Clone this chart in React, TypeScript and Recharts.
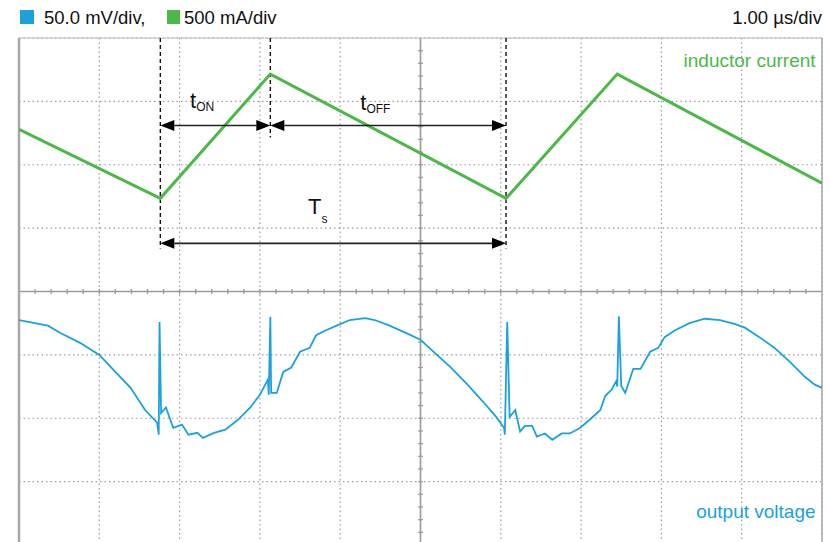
import React from "react";
import {
  ComposedChart,
  Line,
  XAxis,
  YAxis,
  CartesianGrid,
  ReferenceLine,
  ReferenceDot,
} from "recharts";

// time in µs (1 div = 1 µs), values in screen divisions
const xTicks = [-5, -4, -3, -2, -1, 0, 1, 2, 3, 4, 5];
const yTicks = [-4, -3, -2, -1, 0, 1, 2, 3, 4];

const currentTrace = [
  { t: -5.0, v: 2.56 },
  { t: -3.24, v: 1.47 },
  { t: -1.87, v: 3.43 },
  { t: 1.065, v: 1.47 },
  { t: 2.45, v: 3.43 },
  { t: 5.0, v: 1.71 },
];

const voltageTrace = [
  { t: -5.0, v: -0.45 }, { t: -4.64, v: -0.54 }, { t: -4.49, v: -0.65 },
  { t: -4.24, v: -0.81 }, { t: -4.0, v: -1.0 }, { t: -3.8, v: -1.27 },
  { t: -3.61, v: -1.52 }, { t: -3.43, v: -1.87 }, { t: -3.28, v: -2.07 },
  { t: -3.26, v: -2.26 }, { t: -3.25, v: -0.48 }, { t: -3.23, v: -1.92 },
  { t: -3.17, v: -1.83 }, { t: -3.08, v: -2.15 }, { t: -2.97, v: -2.1 },
  { t: -2.89, v: -2.26 }, { t: -2.78, v: -2.23 }, { t: -2.71, v: -2.31 },
  { t: -2.57, v: -2.23 }, { t: -2.43, v: -2.18 }, { t: -2.27, v: -2.02 },
  { t: -2.12, v: -1.83 }, { t: -2.0, v: -1.63 }, { t: -1.9, v: -1.39 },
  { t: -1.89, v: -1.63 }, { t: -1.87, v: -0.4 }, { t: -1.86, v: -1.6 },
  { t: -1.79, v: -1.6 }, { t: -1.71, v: -1.27 }, { t: -1.61, v: -1.2 },
  { t: -1.5, v: -0.95 }, { t: -1.38, v: -0.89 }, { t: -1.3, v: -0.69 },
  { t: -1.19, v: -0.62 }, { t: -1.03, v: -0.53 }, { t: -0.88, v: -0.45 },
  { t: -0.69, v: -0.42 }, { t: -0.57, v: -0.45 }, { t: -0.4, v: -0.53 },
  { t: -0.19, v: -0.65 }, { t: 0.0, v: -0.76 }, { t: 0.16, v: -0.95 },
  { t: 0.37, v: -1.19 }, { t: 0.58, v: -1.46 }, { t: 0.78, v: -1.74 },
  { t: 0.95, v: -1.99 }, { t: 1.04, v: -2.15 }, { t: 1.05, v: -2.26 },
  { t: 1.08, v: -0.48 }, { t: 1.11, v: -1.98 }, { t: 1.18, v: -1.87 },
  { t: 1.24, v: -2.21 }, { t: 1.3, v: -2.12 }, { t: 1.39, v: -2.12 },
  { t: 1.45, v: -2.29 }, { t: 1.55, v: -2.24 }, { t: 1.64, v: -2.34 },
  { t: 1.76, v: -2.24 }, { t: 1.86, v: -2.24 }, { t: 1.99, v: -2.15 },
  { t: 2.11, v: -2.02 }, { t: 2.24, v: -1.87 }, { t: 2.3, v: -1.65 },
  { t: 2.38, v: -1.55 }, { t: 2.44, v: -1.41 }, { t: 2.45, v: -1.5 },
  { t: 2.47, v: -0.39 }, { t: 2.5, v: -1.49 }, { t: 2.55, v: -1.6 },
  { t: 2.65, v: -1.22 }, { t: 2.74, v: -1.22 }, { t: 2.86, v: -0.95 },
  { t: 2.96, v: -0.89 }, { t: 3.04, v: -0.72 }, { t: 3.17, v: -0.61 },
  { t: 3.35, v: -0.5 }, { t: 3.54, v: -0.43 }, { t: 3.73, v: -0.45 },
  { t: 3.91, v: -0.51 }, { t: 4.04, v: -0.57 }, { t: 4.22, v: -0.72 },
  { t: 4.41, v: -0.89 }, { t: 4.6, v: -1.11 }, { t: 4.79, v: -1.35 },
  { t: 4.91, v: -1.47 }, { t: 5.0, v: -1.52 },
];

// switching instants (µs)
const tOn1 = -3.24;
const tOff1 = -1.87;
const tOn2 = 1.065;

const GREEN = "#4cb847";
const BLUE = "#1ba2dd";
const GRID = "#9b9b9b";
const FONT = "'Liberation Sans', Arial, Helvetica, sans-serif";

// minor ticks on the centre axes, 5 per division
const minorX = Array.from({ length: 49 }, (_, i) => -4.8 + i * 0.2);
const minorY = Array.from({ length: 39 }, (_, i) => -3.8 + i * 0.2);

const Arrow = (p: any) => {
  const { x1, y1, x2, y2 } = p;
  const h = 14;
  const w = 5.5;
  return (
    <g>
      <line x1={x1 + h} y1={y1} x2={x2 - h} y2={y2} stroke="#222" strokeWidth={1.6} />
      <polygon points={`${x1},${y1} ${x1 + h},${y1 - w} ${x1 + h},${y1 + w}`} fill="#000" />
      <polygon points={`${x2},${y2} ${x2 - h},${y2 - w} ${x2 - h},${y2 + w}`} fill="#000" />
    </g>
  );
};

const subLabel = (main: string, sub: string, dy: number) => (p: any) => (
  <text x={p.cx} y={p.cy} fontFamily={FONT} fontSize={22} fill="#111">
    {main}
    <tspan fontSize={12} dy={dy}>
      {sub}
    </tspan>
  </text>
);

const sideLabel = (txt: string, color: string) => (p: any) => (
  <text x={p.cx} y={p.cy} fontFamily={FONT} fontSize={19} fill={color} textAnchor="end">
    {txt}
  </text>
);

const headText = { position: "absolute" as const, top: 6, fontSize: 18.5, lineHeight: "24px", color: "#111" };

export default function App() {
  return (
    <div
      style={{
        position: "absolute",
        left: 0,
        top: 0,
        width: 830,
        height: 542,
        overflow: "hidden",
        background: "#fff",
        fontFamily: FONT,
      }}
    >
      <div style={{ position: "absolute", left: 20, top: 10, width: 14, height: 14, background: BLUE }} />
      <div style={{ ...headText, left: 44 }}>50.0 mV/div,</div>
      <div style={{ position: "absolute", left: 167, top: 10, width: 13, height: 14, background: GREEN }} />
      <div style={{ ...headText, left: 184 }}>500 mA/div</div>
      <div style={{ ...headText, right: 8 }}>1.00 µs/div</div>

      <div style={{ position: "absolute", left: 0, top: 0 }}>
        <ComposedChart width={830} height={560} margin={{ top: 38, right: 8, bottom: 15, left: 19 }}>
          <XAxis type="number" dataKey="t" domain={[-5, 5]} ticks={xTicks} allowDataOverflow hide />
          <YAxis type="number" dataKey="v" domain={[-4, 4]} ticks={yTicks} allowDataOverflow hide />
          <CartesianGrid
            stroke={GRID}
            strokeDasharray="1.5 3"
            strokeWidth={1.2}
            horizontalValues={yTicks}
            verticalValues={xTicks}
          />

          <ReferenceLine x={0} stroke={GRID} strokeWidth={1.6} />
          <ReferenceLine y={0} stroke={GRID} strokeWidth={1.6} />
          {minorX.map((t) => (
            <ReferenceLine
              key={`mx${t}`}
              segment={[{ x: t, y: -0.04 }, { x: t, y: 0.04 }]}
              stroke={GRID}
              strokeWidth={1.3}
            />
          ))}
          {minorY.map((v) => (
            <ReferenceLine
              key={`my${v}`}
              segment={[{ x: -0.03, y: v }, { x: 0.03, y: v }]}
              stroke={GRID}
              strokeWidth={1.3}
            />
          ))}
          <ReferenceLine x={-5} stroke="#a8a8a8" strokeWidth={2.5} />
          <ReferenceLine x={5} stroke="#a8a8a8" strokeWidth={1.5} />
          <ReferenceLine y={4} stroke="#bbbbbb" strokeWidth={1.2} />

          <ReferenceLine segment={[{ x: tOn1, y: 4 }, { x: tOn1, y: 0.68 }]} stroke="#111" strokeWidth={1.4} strokeDasharray="4 3" />
          <ReferenceLine segment={[{ x: tOff1, y: 4 }, { x: tOff1, y: 2.43 }]} stroke="#111" strokeWidth={1.4} strokeDasharray="4 3" />
          <ReferenceLine segment={[{ x: tOn2, y: 4 }, { x: tOn2, y: 0.68 }]} stroke="#111" strokeWidth={1.4} strokeDasharray="4 3" />

          <Line
            data={currentTrace}
            dataKey="v"
            type="linear"
            stroke={GREEN}
            strokeWidth={3}
            dot={false}
            isAnimationActive={false}
          />
          <Line
            data={voltageTrace}
            dataKey="v"
            type="linear"
            stroke={BLUE}
            strokeWidth={1.8}
            dot={false}
            isAnimationActive={false}
          />

          <ReferenceLine segment={[{ x: tOn1, y: 2.62 }, { x: tOff1, y: 2.62 }]} shape={Arrow} />
          <ReferenceLine segment={[{ x: tOff1, y: 2.62 }, { x: tOn2, y: 2.62 }]} shape={Arrow} />
          <ReferenceLine segment={[{ x: tOn1, y: 0.76 }, { x: tOn2, y: 0.76 }]} shape={Arrow} />

          <ReferenceDot x={-2.87} y={2.89} r={0} shape={subLabel("t", "ON", 3)} />
          <ReferenceDot x={-0.75} y={2.87} r={0} shape={subLabel("t", "OFF", 3)} />
          <ReferenceDot x={-1.4} y={1.23} r={0} shape={subLabel("T", "s", 9)} />

          <ReferenceDot x={4.92} y={3.55} r={0} shape={sideLabel("inductor current", GREEN)} />
          <ReferenceDot x={4.92} y={-3.58} r={0} shape={sideLabel("output voltage", BLUE)} />
        </ComposedChart>
      </div>
    </div>
  );
}
